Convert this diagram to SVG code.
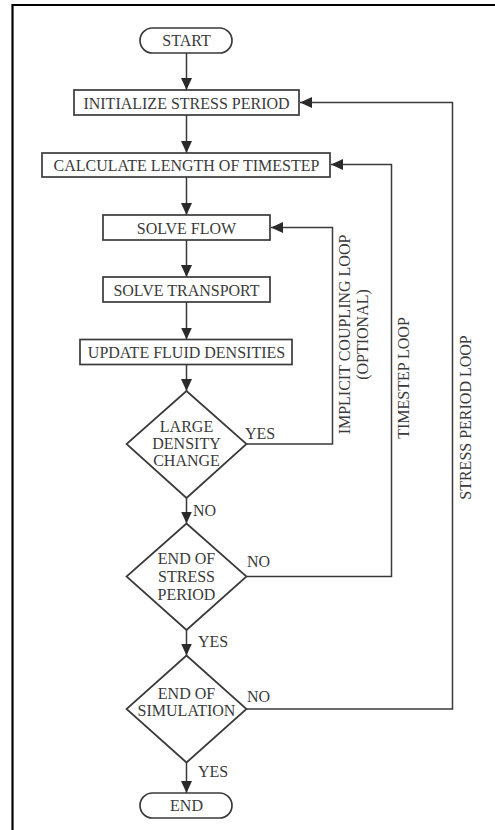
<svg xmlns="http://www.w3.org/2000/svg" width="495" height="830" viewBox="0 0 495 830">
<defs>
<marker id="ah" markerUnits="userSpaceOnUse" markerWidth="12" markerHeight="12" refX="12" refY="6" orient="auto">
<path d="M0,0.5 L12,6 L0,11.5 z" fill="#2a2a2a"/>
</marker>
<style>
.sh{fill:#fff;stroke:#3a3a3a;stroke-width:1.7}
.t{font-family:"Liberation Serif","Times New Roman",serif;font-size:16px;fill:#3a3a3a;text-anchor:middle}
.l{font-family:"Liberation Serif","Times New Roman",serif;font-size:16px;fill:#3a3a3a}
.c{fill:none;stroke:#3a3a3a;stroke-width:1.5}
</style>
</defs>
<rect width="495" height="830" fill="#fff"/>
<path d="M12.5,830 V5 H495" fill="none" stroke="#000" stroke-width="2.2"/>

<g id="connectors">
<line class="c" x1="186.5" y1="53" x2="186.5" y2="90" marker-end="url(#ah)"/>
<line class="c" x1="186.5" y1="115" x2="186.5" y2="153" marker-end="url(#ah)"/>
<line class="c" x1="186.5" y1="177" x2="186.5" y2="215" marker-end="url(#ah)"/>
<line class="c" x1="186.5" y1="240" x2="186.5" y2="277" marker-end="url(#ah)"/>
<line class="c" x1="186.5" y1="302" x2="186.5" y2="339.5" marker-end="url(#ah)"/>
<line class="c" x1="186.5" y1="364.5" x2="186.5" y2="391" marker-end="url(#ah)"/>
<line class="c" x1="186.5" y1="498" x2="186.5" y2="523.5" marker-end="url(#ah)"/>
<line class="c" x1="186.5" y1="630" x2="186.5" y2="655.5" marker-end="url(#ah)"/>
<line class="c" x1="186.5" y1="762.5" x2="186.5" y2="793" marker-end="url(#ah)"/>
<polyline class="c" points="246.5,444 332.5,444 332.5,227.5 271,227.5" marker-end="url(#ah)"/>
<polyline class="c" points="246.5,576.5 391.5,576.5 391.5,164.5 331,164.5" marker-end="url(#ah)"/>
<polyline class="c" points="246.5,709 452.5,709 452.5,102.5 300,102.5" marker-end="url(#ah)"/>
<text class="l" x="245" y="439">YES</text>
<text class="l" x="193" y="516">NO</text>
<text class="l" x="247" y="567">NO</text>
<text class="l" x="198" y="647">YES</text>
<text class="l" x="247" y="701.5">NO</text>
<text class="l" x="198" y="777">YES</text>
<text class="t" transform="translate(350,334.5) rotate(-90)">IMPLICIT COUPLING LOOP</text>
<text class="t" transform="translate(368,334.5) rotate(-90)">(OPTIONAL)</text>
<text class="t" transform="translate(409,378) rotate(-90)">TIMESTEP LOOP</text>
<text class="t" transform="translate(471,417.5) rotate(-90)">STRESS PERIOD LOOP</text>
</g>

<g id="start">
<rect class="sh" x="140" y="28" width="92" height="25" rx="12.5"/>
<text class="t" x="186.5" y="46">START</text>
</g>
<g id="init">
<rect class="sh" x="74" y="90" width="225" height="25"/>
<text class="t" x="186.5" y="108.5">INITIALIZE STRESS PERIOD</text>
</g>
<g id="calc">
<rect class="sh" x="42" y="153" width="288" height="24"/>
<text class="t" x="186.5" y="171">CALCULATE LENGTH OF TIMESTEP</text>
</g>
<g id="flow">
<rect class="sh" x="103" y="215" width="167" height="25"/>
<text class="t" x="186.5" y="233.5">SOLVE FLOW</text>
</g>
<g id="transport">
<rect class="sh" x="103" y="277" width="167" height="25"/>
<text class="t" x="186.5" y="295.5">SOLVE TRANSPORT</text>
</g>
<g id="update">
<rect class="sh" x="80" y="339.5" width="212" height="25"/>
<text class="t" x="186.5" y="358">UPDATE FLUID DENSITIES</text>
</g>
<g id="density">
<polygon class="sh" points="186.5,391 246.5,444 186.5,498 126.5,444"/>
<text class="t" x="186.5" y="431.5">LARGE</text>
<text class="t" x="186.5" y="448.5">DENSITY</text>
<text class="t" x="186.5" y="466">CHANGE</text>
</g>
<g id="endstress">
<polygon class="sh" points="186.5,523.5 246.5,576.5 186.5,630 126.5,576.5"/>
<text class="t" x="186.5" y="563.5">END OF</text>
<text class="t" x="186.5" y="581.5">STRESS</text>
<text class="t" x="186.5" y="599.5">PERIOD</text>
</g>
<g id="endsim">
<polygon class="sh" points="186.5,655.5 246.5,709 186.5,762.5 126.5,709"/>
<text class="t" x="186.5" y="698.5">END OF</text>
<text class="t" x="186.5" y="716">SIMULATION</text>
</g>
<g id="end">
<rect class="sh" x="140" y="793" width="92" height="25" rx="12.5"/>
<text class="t" x="186.5" y="811">END</text>
</g>
</svg>
